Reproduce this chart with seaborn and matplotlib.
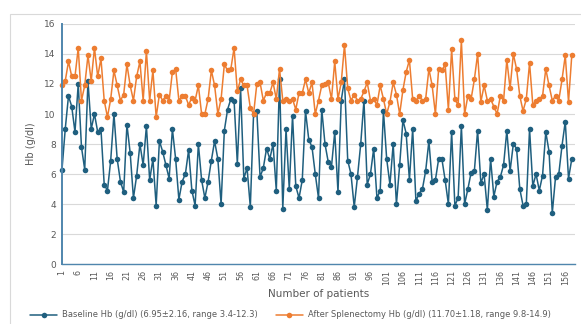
import numpy as np
import pandas as pd
import matplotlib
matplotlib.use('Agg')
import matplotlib.pyplot as plt
import seaborn as sns
from matplotlib.patches import Rectangle
from matplotlib.ticker import MultipleLocator

baseline_hb = [
    6.3, 9.0, 11.2, 10.5, 8.8, 12.0, 7.8, 6.3, 12.2, 9.0,
    10.0, 8.8, 9.0, 5.3, 4.9, 6.9, 10.0, 7.0, 5.5, 4.8,
    9.3, 7.4, 4.4, 5.9, 8.0, 6.6, 9.2, 5.6, 7.0, 3.9,
    8.2, 7.5, 6.6, 5.7, 9.0, 7.0, 4.3, 5.5, 6.0, 7.6,
    4.9, 3.9, 8.0, 5.6, 4.4, 5.5, 6.9, 8.2, 7.0, 4.0,
    8.9, 10.3, 11.0, 10.9, 6.7, 11.7, 5.7, 6.4, 3.8, 10.0,
    10.2, 5.8, 6.4, 7.7, 7.0, 8.0, 4.9, 12.3, 3.7, 9.0,
    5.0, 9.9, 5.2, 4.4, 5.6, 10.2, 8.3, 7.8, 6.0, 4.4,
    10.3, 8.0, 6.8, 6.5, 8.8, 4.8, 10.9, 12.3, 6.9, 6.0,
    3.8, 5.8, 8.0, 10.9, 5.3, 6.0, 7.7, 4.4, 4.9, 10.2,
    7.0, 5.3, 8.0, 4.0, 6.6, 9.6, 8.7, 5.6, 9.0, 4.2,
    4.7, 5.0, 6.2, 8.2, 5.5, 5.6, 7.0, 7.0, 5.6, 4.0,
    8.8, 3.9, 4.4, 9.2, 4.0, 5.0, 6.1, 6.2, 8.9, 5.4,
    6.0, 3.6, 7.0, 4.5, 5.5, 5.8,
    6.6, 8.9, 6.2, 8.0, 7.7, 5.0, 3.9, 4.0, 9.0, 5.2,
    6.0, 4.9, 5.9, 8.8, 7.5, 3.4, 5.8, 6.0, 7.9, 9.5,
    5.7, 7.0,
]

after_hb = [
    11.9, 12.2, 13.5, 12.5, 12.5, 14.4, 10.9, 11.9, 13.9, 12.2,
    14.4, 12.5, 13.7, 10.9, 9.8, 11.0, 12.9, 11.9, 10.9, 11.3,
    13.3, 11.9, 10.9, 12.5, 13.5, 10.9, 14.2, 10.9, 12.9, 9.8,
    11.3, 10.9, 11.2, 10.9, 12.8, 13.0, 10.9, 11.2, 11.2, 10.6,
    11.1, 10.9, 11.9, 10.0, 10.0, 11.0, 12.9, 11.9, 10.0, 11.0,
    13.3, 12.9, 13.0, 14.4, 11.5, 12.3, 11.9, 11.9, 10.4, 10.0,
    12.0, 12.1, 10.9, 11.4, 11.4, 12.1, 11.0, 13.0, 10.9, 11.0,
    10.9, 11.0, 10.3, 11.4, 11.4, 12.3, 11.4, 12.1, 10.0, 10.9,
    11.9, 12.0, 12.1, 11.0, 13.5, 11.0, 12.1, 14.6, 11.7, 10.9,
    11.3, 10.9, 11.0, 11.5, 12.1, 10.9, 11.0, 10.6, 11.9, 11.0,
    10.0, 10.8, 12.1, 11.3, 10.0, 11.6, 12.8, 13.6, 11.0, 10.9,
    11.2, 10.9, 11.0, 13.0, 11.9, 10.0, 13.0, 12.9, 13.3, 10.3,
    14.3, 11.0, 10.6, 14.9, 10.0, 11.2, 11.0, 12.3, 14.0, 10.8,
    11.9, 10.9, 11.0, 10.5,
    10.0, 11.2, 10.9, 13.6, 11.7, 14.0, 13.0, 11.2, 10.2, 11.0,
    13.4, 10.6, 10.9, 11.0, 11.2, 13.0, 11.9, 10.9, 11.2, 10.9,
    12.3, 13.9, 10.8, 13.9,
]

patients = np.arange(1, len(baseline_hb) + 1)
tick_patients = np.arange(1, len(patients) + 1, 5)

baseline_label = 'Baseline Hb (g/dl) (6.95\u00b12.16, range 3.4-12.3)'
after_label = 'After Splenectomy Hb (g/dl) (11.70\u00b11.18, range 9.8-14.9)'

blue = '#1f5f7f'
orange = '#ed7d31'
text_grey = '#595959'
axis_blue = '#4f86ad'

sns.set_style('white')
plt.rcParams['font.family'] = ['DejaVu Sans']

fig = plt.figure(figsize=(5.81, 3.24), dpi=100)
ax = fig.add_axes([0.1067, 0.185, 0.883, 0.741])

df = pd.DataFrame({'patient': patients, 'baseline': baseline_hb, 'after': after_hb})

sns.lineplot(data=df, x='patient', y='baseline', ax=ax, color=blue, marker='o',
             markersize=4.0, markeredgewidth=0, linewidth=1.1, label=baseline_label)
sns.lineplot(data=df, x='patient', y='after', ax=ax, color=orange, marker='o',
             markersize=4.0, markeredgewidth=0, linewidth=1.1, label=after_label)
for line in ax.lines:
    line.set_clip_on(False)

ax.set_xlim(1, len(patients) + 1)
ax.set_ylim(0, 16)
ax.yaxis.set_major_locator(MultipleLocator(2))
ax.grid(axis='y', color='#d9d9d9', linewidth=0.8)
ax.set_axisbelow(True)

ax.set_xticks(tick_patients)
ax.set_xticklabels([str(p) for p in tick_patients], rotation=90, fontsize=5.8, color=text_grey)
ax.set_xticks(np.arange(1, len(patients) + 2), minor=True)
ax.tick_params(axis='x', which='both', direction='out', length=2.5, width=0.6,
               color=axis_blue, pad=1.5)
ax.tick_params(axis='y', labelsize=6.5, labelcolor=text_grey, length=2.5,
               color=axis_blue, width=0.6, pad=2)

for side in ['top', 'right']:
    ax.spines[side].set_visible(False)
ax.spines['left'].set_color(axis_blue)
ax.spines['left'].set_linewidth(1.4)
ax.spines['bottom'].set_color(axis_blue)
ax.spines['bottom'].set_linewidth(1.0)

ax.set_xlabel('Number of patients', fontsize=7.5, color=text_grey, labelpad=3)
ax.set_ylabel('Hb (g/dl)', fontsize=7, color=text_grey, labelpad=6)

handles, labels = ax.get_legend_handles_labels()
ax.get_legend().remove()
fig.legend(handles, labels, loc='center', bbox_to_anchor=(0.5, 0.028), ncol=2,
           frameon=False, fontsize=6, labelcolor=text_grey, handlelength=3.2,
           columnspacing=2.2, handletextpad=0.6)

fig.patches.append(Rectangle((10 / 581, -0.05), 1.0, 1 - 14 / 324 + 0.05,
                             transform=fig.transFigure, fill=False,
                             edgecolor='#d9d9d9', linewidth=0.8))

fig.savefig('out.png', dpi=100)
